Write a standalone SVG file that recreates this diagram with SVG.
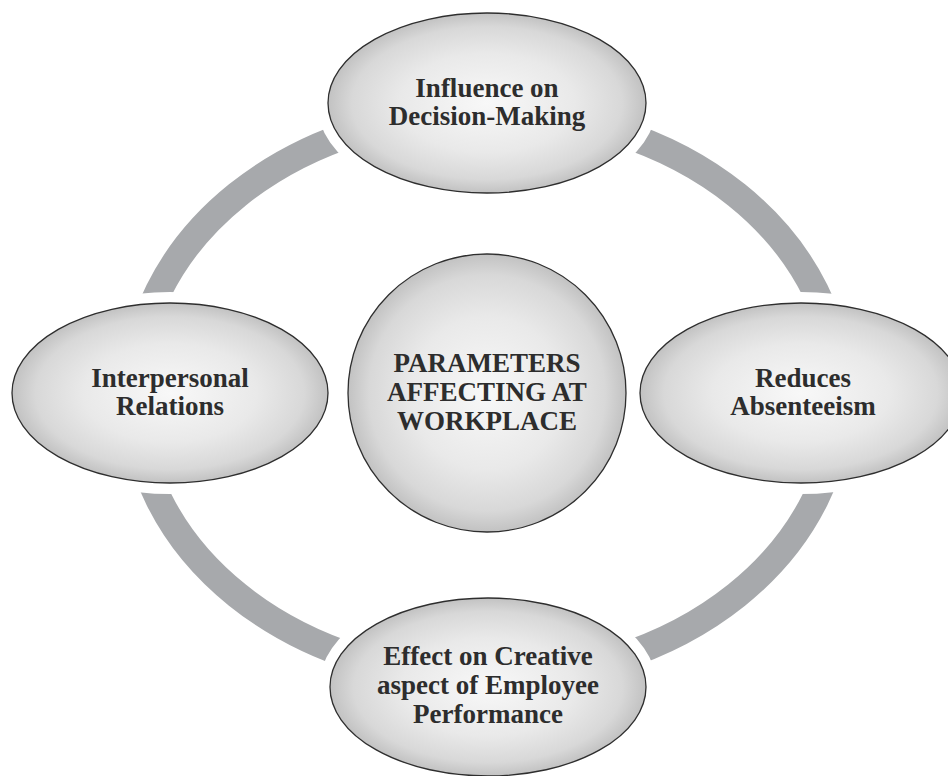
<svg xmlns="http://www.w3.org/2000/svg" width="948" height="776" viewBox="0 0 948 776">
  <defs>
    <radialGradient id="g" cx="50%" cy="50%" r="50%">
      <stop offset="0" stop-color="#f8f8f8"/>
      <stop offset="0.55" stop-color="#e9e9e9"/>
      <stop offset="0.85" stop-color="#d8d8d8"/>
      <stop offset="1" stop-color="#c2c2c2"/>
    </radialGradient>
  </defs>
  <style>
    .arc { fill: none; stroke: #a7a9ac; stroke-width: 27; }
    .halo { fill: #ffffff; stroke: #ffffff; stroke-width: 22; }
    .shape { fill: url(#g); stroke: #2e2e2e; stroke-width: 1.3; }
    .label { font-family: "Liberation Serif", "Times New Roman", serif; font-weight: bold; font-size: 27px; fill: #2d2d2d; text-anchor: middle; }
  </style>
  <rect width="948" height="776" fill="#ffffff"/>
  <g id="connectors">
    <path class="arc" d="M 134 395 A 353 283 0 0 1 487 112"/>
    <path class="arc" d="M 487 112 A 353 283 0 0 1 840 395"/>
    <path class="arc" d="M 840 395 A 353 283 0 0 1 487 678"/>
    <path class="arc" d="M 487 678 A 353 283 0 0 1 134 395"/>
  </g>
  <g id="node-center">
    <circle class="shape" cx="487" cy="393" r="139"/>
    <text class="label" x="487" y="372">PARAMETERS</text>
    <text class="label" x="487" y="401">AFFECTING AT</text>
    <text class="label" x="487" y="430">WORKPLACE</text>
  </g>
  <g id="node-top">
    <ellipse class="halo" cx="487" cy="103" rx="159" ry="90"/>
    <ellipse class="shape" cx="487" cy="103" rx="159" ry="90"/>
    <text class="label" x="487" y="97">Influence on</text>
    <text class="label" x="487" y="125">Decision-Making</text>
  </g>
  <g id="node-left">
    <ellipse class="halo" cx="170" cy="393" rx="158" ry="90"/>
    <ellipse class="shape" cx="170" cy="393" rx="158" ry="90"/>
    <text class="label" x="170" y="387">Interpersonal</text>
    <text class="label" x="170" y="415">Relations</text>
  </g>
  <g id="node-right">
    <ellipse class="halo" cx="801" cy="393" rx="161" ry="90"/>
    <ellipse class="shape" cx="801" cy="393" rx="161" ry="90"/>
    <text class="label" x="803" y="387">Reduces</text>
    <text class="label" x="803" y="415">Absenteeism</text>
  </g>
  <g id="node-bottom">
    <ellipse class="halo" cx="488" cy="687" rx="158" ry="89"/>
    <ellipse class="shape" cx="488" cy="687" rx="158" ry="89"/>
    <text class="label" x="488" y="665">Effect on Creative</text>
    <text class="label" x="488" y="694">aspect of Employee</text>
    <text class="label" x="488" y="723">Performance</text>
  </g>
</svg>
